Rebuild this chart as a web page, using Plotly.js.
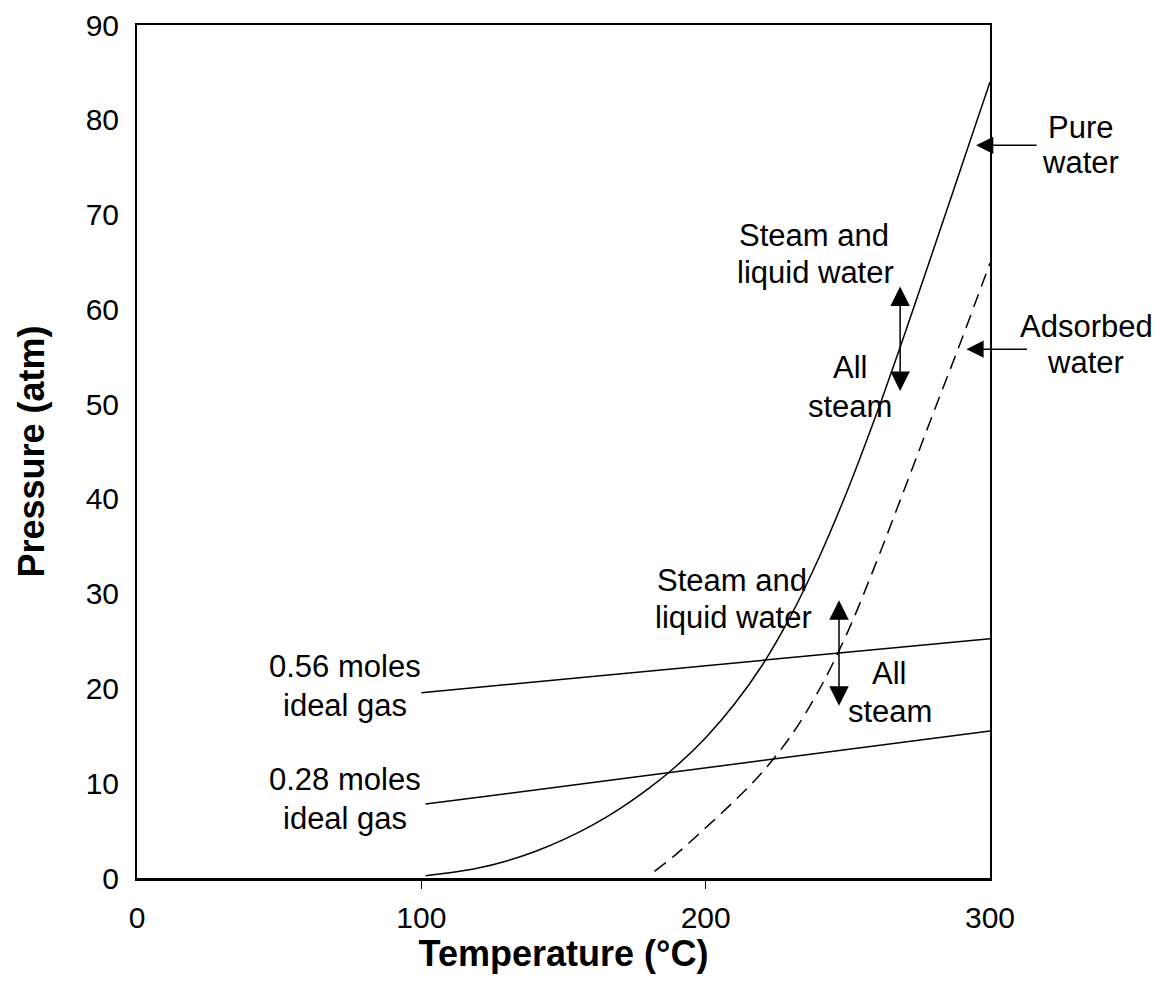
<!DOCTYPE html>
<html>
<head>
<meta charset="utf-8">
<script src="https://cdn.plot.ly/plotly-3.0.1.min.js"></script>
<style>html,body{margin:0;padding:0;background:#fff;}#chart{width:1162px;height:998px;}</style>
</head>
<body>
<div id="chart"></div>
<script>
// Pure water saturation curve
const pureT = [101.5, 110, 120, 130, 140, 150, 160, 170, 180, 190, 200, 210, 220, 230, 240, 250, 260, 270, 280, 290, 300];
const pureP = [0.25, 0.55, 1.05, 1.8, 2.8, 4.05, 5.55, 7.35, 9.45, 11.9, 14.8, 18.3, 22.5, 27.7, 33.9, 41.0, 48.9, 57.4, 66.2, 75.1, 84.0];
// Adsorbed water curve (dashed)
const adsT = [182, 190, 200, 210, 220, 230, 240, 250, 260, 270, 280, 290, 300];
const adsP = [0.7, 2.6, 5.3, 8.1, 11.2, 15.0, 19.9, 26.0, 33.3, 41.1, 49.0, 56.8, 64.9];
// Ideal gas lines
const gas056T = [100, 300];
const gas056P = [19.55, 25.25];
const gas028T = [101.5, 300];
const gas028P = [7.8, 15.5];
// Axis ticks
const xTicks = [0, 100, 200, 300];
const xMinorTicks = [100, 200];
const yTicks = [0, 10, 20, 30, 40, 50, 60, 70, 80, 90];

const FONT = 'Liberation Sans, Arial, sans-serif';
const line = {color: '#000', width: 1.5};

const traces = [
  {x: pureT, y: pureP, mode: 'lines', line: {color: '#000', width: 1.5, shape: 'spline', smoothing: 1}, name: 'Pure water'},
  {x: adsT, y: adsP, mode: 'lines', line: {color: '#000', width: 1.5, dash: '14px,8px', shape: 'spline', smoothing: 1}, name: 'Adsorbed water'},
  {x: gas056T, y: gas056P, mode: 'lines', line: line, name: '0.56 moles ideal gas'},
  {x: gas028T, y: gas028P, mode: 'lines', line: line, name: '0.28 moles ideal gas'},
  {x: [100, 200], y: [null, null], xaxis: 'x2', mode: 'lines', showlegend: false, hoverinfo: 'skip'}
];

// plot area in pixels (for placing text labels in paper coordinates)
const PL = 137, PR = 990, PT = 25, PB = 878;
function txt(text, X, Y) {
  return {text: text, xref: 'paper', yref: 'paper',
          x: (X - PL) / (PR - PL), y: (PB - Y) / (PB - PT), showarrow: false,
          xanchor: 'center', yanchor: 'middle', align: 'center',
          font: {family: FONT, size: 31, color: '#000'}};
}
function arrow(x, y, ax, ay, both, size) {
  return {text: '', xref: 'x', yref: 'y', x: x, y: y, ax: ax, ay: ay, showarrow: true,
          arrowhead: 2, arrowsize: size, arrowwidth: 1.5, arrowcolor: '#000',
          standoff: 0, startstandoff: 0, startarrowhead: 2, startarrowsize: size,
          arrowside: both ? 'end+start' : 'end'};
}

const annotations = [
  txt('Pure', 1080, 127), txt('water', 1080, 163),
  txt('Adsorbed', 1086, 326), txt('water', 1085, 362),
  txt('Steam and', 814, 236), txt('liquid water', 815, 272),
  txt('All', 850, 368), txt('steam', 850, 406),
  txt('Steam and', 732, 580), txt('liquid water', 733, 617),
  txt('All', 889, 673), txt('steam', 890, 711),
  txt('0.56 moles', 345, 666), txt('ideal gas', 345, 705),
  txt('0.28 moles', 345, 779), txt('ideal gas', 345, 818),
  arrow(295.1, 77.3, 62, 0, false, 2.3),
  arrow(291.7, 55.8, 62, 0, false, 2.3),
  arrow(268.4, 62.4, 0, 106, true, 2.6),
  arrow(246.9, 29.3, 0, 107, true, 2.6)
];

const layout = {
  width: 1162, height: 998,
  margin: {l: 137, r: 172, t: 25, b: 120},
  paper_bgcolor: '#fff', plot_bgcolor: '#fff',
  showlegend: false,
  font: {family: FONT, size: 30, color: '#000'},
  xaxis: {
    range: [0, 300], tickvals: xTicks, ticktext: xTicks.map(String),
    ticks: '', showgrid: false, zeroline: false,
    showline: true, linecolor: '#000', linewidth: 2.5, mirror: true,
    tickfont: {family: FONT, size: 30, color: '#000'}, ticklabelstandoff: 11,
    automargin: true,
    title: {text: 'Temperature (°C)', font: {family: FONT, size: 36, color: '#000', weight: 'bold'}, standoff: 0},
    fixedrange: true
  },
  xaxis2: {
    range: [0, 300], overlaying: 'x', side: 'bottom', anchor: 'y',
    tickvals: xMinorTicks, ticks: 'outside', ticklen: 10, tickwidth: 1, tickcolor: '#000',
    showticklabels: false, showgrid: false, zeroline: false, showline: false, fixedrange: true
  },
  yaxis: {
    range: [0, 90], tickvals: yTicks, ticks: '', showgrid: false, zeroline: false,
    showline: true, linecolor: '#000', linewidth: 2, mirror: true,
    tickfont: {family: FONT, size: 30, color: '#000'}, ticklabelstandoff: 10,
    title: {text: 'Pressure (atm)', font: {family: FONT, size: 36, color: '#000', weight: 'bold'}, standoff: 30},
    fixedrange: true
  },
  annotations: annotations
};

Plotly.newPlot('chart', traces, layout, {displayModeBar: false, staticPlot: true});
</script>
</body>
</html>
